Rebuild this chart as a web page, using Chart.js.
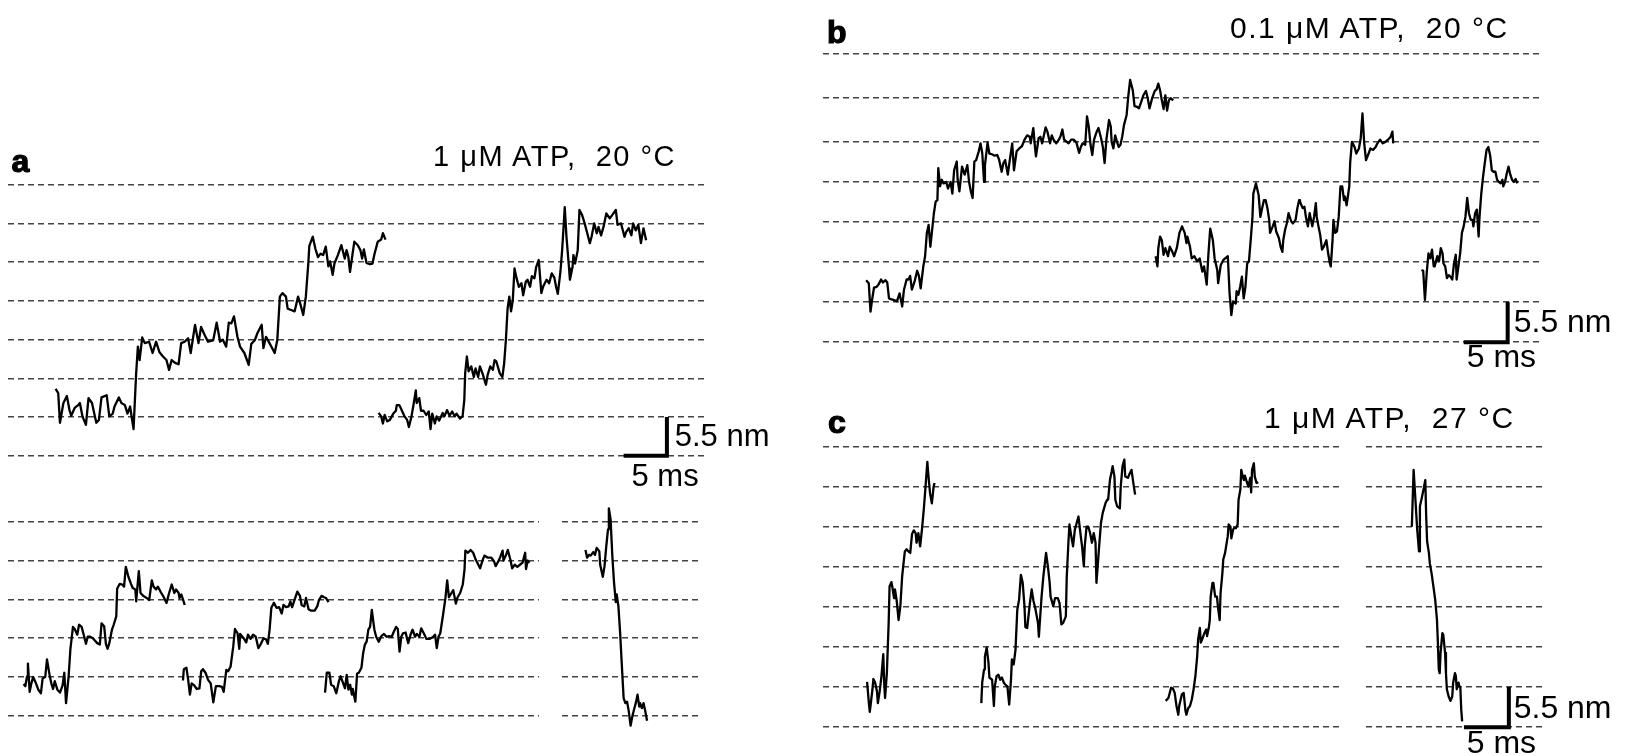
<!DOCTYPE html>
<html>
<head>
<meta charset="utf-8">
<script src="https://cdn.jsdelivr.net/npm/chart.js@4.4.1/dist/chart.umd.min.js"></script>
<style>
  html, body { margin: 0; padding: 0; background: #fff; }
  #fig { position: relative; width: 1627px; height: 756px; overflow: hidden; background: #fff;
         font-family: "Liberation Sans", Arial, sans-serif; color: #000; }
  .plot { position: absolute; }
  .txt { position: absolute; white-space: pre; line-height: 1; }
  .title { letter-spacing: 1.5px; }
  .tag { font-weight: bold; -webkit-text-stroke: 1.2px #000; }
</style>
</head>
<body>
<div id="fig"></div>
<script>
// Step-level reference lines (nm)
const levelsA = [0, 5.5, 11, 16.5, 22, 27.5, 33, 38.5];
const levelsA2 = [0, 5.5, 11, 16.5, 22, 27.5];
const levelsB = [0, 5.5, 11, 16.5, 22, 27.5, 33.5, 39.6];
const levelsC = [0, 5.5, 11, 16.5, 22, 27.5, 33, 38.5];

// Scale bars: 5 ms x 5.5 nm, as [time ms, position nm]
const barA = [[71.1, 0], [76.1, 0], [76.1, 5.5]];
const barB = [[72.8, 0], [77.8, 0], [77.8, 5.5]];
const barC = [[10.9, 0], [15.9, 0], [15.9, 5.5]];

// Panel labels and condition titles
const titleA = "1 \u03bcM ATP,  20 \u00b0C";
const titleB = "0.1 \u03bcM ATP,  20 \u00b0C";
const titleC = "1 \u03bcM ATP,  27 \u00b0C";

// Traces: [time (ms), position (nm)]
// a, upper row
const traceA1 = [[5.5,9.5],[5.8,8.9],[6.0,4.7],[6.4,7.5],[6.8,8.5],[7.1,6.5],[7.3,5.7],[7.7,6.8],[8.1,7.2],[8.3,7.5],[8.6,5.6],[9.0,4.4],[9.3,8.2],[9.7,7.5],[10.0,5.8],[10.2,4.7],[10.5,5.1],[10.8,8.3],[11.4,8.6],[11.7,5.6],[12.1,6.0],[12.3,7.0],[12.8,8.3],[13.1,7.5],[13.5,7.2],[13.8,6.0],[14.1,7.0],[14.5,3.8],[14.8,11.7],[15.0,15.5],[15.2,13.6],[15.5,16.8],[15.8,16.0],[16.3,16.2],[16.7,14.6],[17.1,16.2],[17.5,14.7],[17.9,14.1],[18.3,13.6],[18.6,12.2],[18.9,13.6],[19.3,13.2],[19.7,13.0],[20.0,16.0],[20.4,16.2],[20.8,16.7],[21.1,14.6],[21.6,18.6],[22.0,16.0],[22.3,18.3],[22.7,17.2],[23.1,16.2],[23.7,16.4],[24.1,18.9],[24.5,16.2],[24.8,16.5],[25.2,15.5],[25.5,18.9],[25.8,18.8],[26.1,19.8],[26.5,16.9],[26.8,15.5],[27.3,14.6],[27.8,12.9],[28.1,15.9],[28.5,16.4],[28.8,17.4],[29.3,18.6],[29.5,15.3],[29.8,16.9],[30.2,16.0],[30.5,15.3],[30.8,14.6],[31.1,16.4],[31.4,22.6],[31.7,23.1],[32.1,22.6],[32.3,20.9],[32.7,20.7],[33.1,20.5],[33.5,22.6],[33.8,21.4],[34.1,20.0],[34.4,22.6],[34.7,27.6],[34.8,29.8],[35.2,31.1],[35.5,29.4],[35.8,28.2],[36.1,28.7],[36.4,28.5],[36.7,29.7],[37.0,26.9],[37.2,27.6],[37.5,25.7],[37.7,27.3],[38.1,28.5],[38.5,29.9],[38.9,28.0],[39.1,29.2],[39.3,28.3],[39.5,26.1],[39.8,28.7],[40.0,30.4],[40.4,29.9],[40.7,29.2],[40.9,28.0],[41.1,29.3],[41.4,27.4],[41.8,27.2],[42.1,27.3],[42.3,28.5],[42.7,30.4],[43.1,30.7],[43.3,31.6],[43.6,30.7]];
const traceA2 = [[42.8,6.1],[43.1,5.6],[43.3,4.6],[43.5,5.8],[43.8,4.9],[44.1,5.1],[44.5,6.0],[44.8,6.4],[44.9,7.2],[45.2,7.2],[45.5,6.4],[45.8,5.6],[46.1,5.1],[46.3,4.1],[46.6,5.6],[46.8,7.0],[47.1,9.3],[47.2,7.5],[47.5,8.2],[47.7,6.4],[48.0,6.4],[48.3,5.8],[48.6,6.3],[48.8,3.8],[49.0,6.0],[49.3,4.6],[49.5,5.6],[49.8,5.0],[50.2,6.1],[50.4,5.6],[50.7,6.5],[51.0,5.7],[51.3,6.3],[51.6,5.6],[51.8,6.0],[52.2,5.3],[52.5,5.6],[52.7,7.9],[52.8,11.7],[53.0,14.1],[53.2,12.0],[53.5,12.7],[53.8,11.2],[54.0,12.4],[54.3,11.2],[54.5,12.7],[54.8,11.7],[55.2,10.1],[55.4,11.5],[55.7,12.7],[56.0,12.2],[56.2,13.6],[56.4,13.4],[56.8,11.7],[57.1,11.2],[57.3,13.1],[57.5,16.4],[57.7,20.9],[57.9,22.6],[58.1,20.5],[58.3,22.1],[58.5,26.6],[58.7,25.4],[59.0,24.0],[59.3,24.5],[59.5,22.8],[59.8,24.7],[60.0,25.0],[60.3,24.0],[60.5,25.5],[60.8,25.2],[61.0,26.8],[61.3,27.8],[61.6,23.1],[61.8,24.0],[62.2,25.0],[62.5,24.5],[62.8,25.9],[63.1,25.3],[63.3,24.0],[63.5,23.0],[63.8,26.1],[64.0,29.2],[64.2,33.2],[64.3,35.3],[64.5,31.1],[64.8,26.6],[64.9,25.0],[65.2,26.8],[65.3,28.5],[65.5,27.3],[65.8,29.2],[66.0,34.9],[66.3,34.2],[66.6,33.0],[66.9,31.6],[67.2,30.2],[67.4,31.1],[67.7,33.0],[68.0,31.6],[68.2,32.5],[68.5,31.3],[68.8,32.6],[69.1,34.4],[69.5,33.7],[69.8,34.2],[70.2,34.9],[70.4,32.8],[70.8,33.0],[71.2,31.1],[71.4,31.8],[71.7,32.3],[72.0,31.3],[72.2,33.0],[72.5,32.0],[72.8,32.8],[73.1,30.2],[73.4,32.3],[73.7,30.6]];

// a, lower row (left block)
const traceA3 = [[1.8,4.5],[2.0,4.2],[2.2,5.6],[2.3,7.4],[2.5,3.4],[2.7,4.6],[2.9,5.5],[3.2,4.7],[3.5,3.7],[3.8,3.2],[4.0,5.3],[4.3,5.5],[4.5,8.0],[4.8,5.8],[5.0,4.6],[5.2,3.8],[5.4,4.9],[5.7,3.7],[6.0,3.3],[6.3,4.3],[6.5,6.1],[6.7,1.8],[7.0,5.6],[7.2,9.4],[7.5,12.6],[7.7,12.3],[8.0,11.5],[8.2,12.9],[8.5,12.6],[8.8,11.2],[9.0,10.2],[9.2,11.2],[9.5,11.2],[9.8,11.0],[10.0,10.7],[10.3,10.3],[10.6,10.1],[10.8,13.1],[11.1,12.7],[11.3,10.2],[11.5,9.5],[11.7,10.3],[12.0,12.2],[12.2,12.9],[12.5,14.1],[12.6,18.0],[12.9,18.7],[13.2,18.6],[13.4,18.3],[13.6,21.1],[13.9,19.7],[14.2,18.7],[14.4,18.1],[14.7,17.9],[14.8,16.2],[15.1,20.5],[15.3,17.4],[15.6,17.0],[16.0,16.7],[16.3,16.4],[16.6,19.2],[16.8,18.3],[17.1,17.9],[17.3,18.3],[17.6,17.6],[17.9,17.0],[18.3,16.0],[18.6,17.4],[18.9,18.6],[19.2,17.4],[19.4,17.9],[19.7,17.4],[19.8,16.7],[20.0,17.2],[20.2,16.5],[20.4,15.7]];
const traceA4 = [[20.2,5.0],[20.3,6.6],[20.6,6.8],[20.8,5.1],[21.0,3.0],[21.2,4.6],[21.5,4.3],[21.8,3.8],[22.1,3.9],[22.3,6.3],[22.5,6.6],[22.8,6.1],[23.1,5.1],[23.4,4.6],[23.7,1.9],[24.0,4.2],[24.4,4.2],[24.7,4.1],[24.9,3.4],[25.2,6.5],[25.4,6.3],[25.7,7.0],[26.0,9.8],[26.2,12.3],[26.5,11.7],[26.7,9.5],[26.8,11.6],[27.2,11.0],[27.5,10.4],[27.7,11.5],[28.0,10.9],[28.3,11.5],[28.6,11.2],[28.9,9.6],[29.2,10.2],[29.5,11.0],[29.8,10.8],[30.0,10.2],[30.2,12.2],[30.4,15.3],[30.7,16.0],[31.0,15.3],[31.3,15.4],[31.6,14.5],[31.8,15.7],[32.1,15.4],[32.4,15.5],[32.6,16.2],[32.8,15.4],[33.1,16.5],[33.4,17.6],[33.7,17.0],[33.9,15.7],[34.2,15.5],[34.4,16.7],[34.7,15.1],[35.0,14.9],[35.4,14.9],[35.7,15.5],[35.9,16.4],[36.2,17.0],[36.5,16.8],[36.7,16.7],[37.0,16.1]];
const traceA5 = [[36.6,3.3],[36.8,6.1],[37.1,6.1],[37.3,4.4],[37.6,4.2],[37.9,3.2],[38.2,4.9],[38.4,5.6],[38.6,4.9],[38.9,3.9],[39.1,5.8],[39.3,3.7],[39.5,4.4],[39.7,3.0],[39.8,3.8],[40.1,2.0],[40.3,6.0],[40.5,6.1],[40.8,6.8],[41.0,8.9],[41.2,10.1],[41.4,10.5],[41.6,12.2],[41.8,12.6],[42.0,15.0],[42.2,13.1],[42.3,12.2],[42.5,11.2],[42.8,10.5],[43.1,11.3],[43.4,11.6],[43.7,11.2],[44.0,11.3],[44.3,11.2],[44.5,11.8],[44.8,12.6],[45.0,12.3],[45.2,9.1],[45.4,11.2],[45.6,11.7],[45.9,11.8],[46.2,10.3],[46.5,11.6],[46.7,12.2],[47.0,11.2],[47.2,11.6],[47.5,11.2],[47.7,12.4],[48.0,11.7],[48.3,10.9],[48.7,10.9],[49.1,11.2],[49.3,11.5],[49.5,9.6],[49.7,11.2],[49.9,11.7],[50.2,14.1],[50.5,16.7],[50.7,19.2],[50.9,16.8],[51.2,17.4],[51.4,17.8],[51.7,15.9],[51.9,16.8],[52.2,17.4],[52.5,18.6],[52.7,20.7],[52.8,23.4],[53.1,23.1],[53.4,23.5],[53.7,23.1],[54.0,22.1],[54.3,21.4],[54.5,20.9],[54.8,22.1],[55.0,22.7],[55.4,22.4],[55.8,22.4],[56.1,21.9],[56.3,21.2],[56.6,21.9],[56.8,22.4],[57.1,23.4],[57.2,22.0],[57.5,22.8],[57.7,23.5],[58.0,22.1],[58.2,20.9],[58.5,21.4],[58.8,21.1],[59.1,21.4],[59.4,21.7],[59.7,23.1],[59.8,20.8],[60.0,22.0],[60.2,21.7]];
// a, lower row (right block, backward run)
const traceA6 = [[2.7,23.5],[2.9,22.4],[3.1,22.8],[3.3,22.7],[3.6,23.2],[3.8,22.8],[4.0,23.8],[4.3,23.3],[4.4,21.4],[4.7,19.7],[4.9,21.2],[5.1,24.0],[5.3,26.4],[5.4,29.4],[5.6,27.8],[5.8,22.6],[6.0,18.8],[6.2,16.1],[6.3,17.2],[6.5,15.5],[6.7,11.7],[6.9,7.0],[7.1,2.5],[7.3,1.8],[7.5,2.0],[7.7,0.6],[7.9,-1.4],[8.1,-0.1],[8.3,0.9],[8.5,1.8],[8.7,3.0],[8.9,1.3],[9.0,1.8],[9.2,1.1],[9.4,1.8],[9.6,0.6],[9.8,-0.7]];

// b
const traceB1 = [[4.9,8.5],[5.2,8.1],[5.4,4.2],[5.6,6.0],[5.8,7.5],[6.1,7.6],[6.3,7.9],[6.6,8.6],[6.8,8.2],[7.1,8.5],[7.3,8.2],[7.5,6.0],[7.7,5.9],[8.0,5.8],[8.4,5.6],[8.7,6.7],[9.0,4.9],[9.2,7.2],[9.5,8.6],[9.7,8.6],[9.9,9.1],[10.1,7.2],[10.4,8.3],[10.7,9.8],[10.9,9.1],[11.1,7.4],[11.4,10.4],[11.6,11.8],[11.8,15.0],[12.0,16.1],[12.2,13.1],[12.4,15.4],[12.6,17.7],[12.8,19.3],[13.0,19.5],[13.1,23.9],[13.3,21.4],[13.5,22.3],[13.7,21.8],[14.0,22.0],[14.2,21.1],[14.5,22.0],[14.7,20.4],[14.9,23.6],[15.2,24.8],[15.3,22.3],[15.5,20.7],[15.8,24.1],[16.1,23.0],[16.4,24.3],[16.6,22.0],[16.8,20.7],[17.0,19.8],[17.2,24.8],[17.4,25.0],[17.7,26.2],[17.9,27.3],[18.1,25.9],[18.3,22.0],[18.4,24.3],[18.7,27.4],[18.9,25.9],[19.2,25.8],[19.5,25.6],[19.8,25.7],[20.0,25.1],[20.3,23.4],[20.5,24.6],[20.7,25.0],[21.0,23.0],[21.2,24.8],[21.5,27.3],[21.7,23.6],[22.0,26.2],[22.3,26.6],[22.6,26.9],[22.9,27.8],[23.2,28.4],[23.5,28.2],[23.6,27.3],[23.9,29.4],[24.1,26.6],[24.2,25.5],[24.5,28.0],[24.7,28.2],[24.9,27.3],[25.1,28.4],[25.3,29.5],[25.5,28.9],[25.8,27.3],[26.0,28.4],[26.2,27.8],[26.5,27.3],[26.8,27.8],[27.0,28.3],[27.2,29.2],[27.4,27.8],[27.7,27.5],[27.9,27.3],[28.2,27.8],[28.5,27.8],[28.8,27.4],[29.1,26.0],[29.3,26.8],[29.5,27.3],[29.8,27.1],[30.0,31.0],[30.2,29.6],[30.4,27.1],[30.6,25.7],[30.8,27.8],[31.1,28.9],[31.3,29.4],[31.6,28.0],[31.8,26.8],[32.0,24.6],[32.2,27.8],[32.5,30.5],[32.7,29.6],[32.8,27.5],[33.0,26.6],[33.2,28.4],[33.4,27.5],[33.6,26.8],[33.8,27.1],[34.0,28.2],[34.2,29.8],[34.5,31.2],[34.7,33.9],[34.9,36.0],[35.2,34.6],[35.4,32.4],[35.7,32.3],[35.9,32.1],[36.1,32.8],[36.4,33.9],[36.7,34.5],[36.9,33.5],[37.1,32.1],[37.4,33.5],[37.7,34.5],[37.9,34.7],[38.1,35.5],[38.3,34.6],[38.5,33.2],[38.7,32.0],[38.9,33.9],[39.1,31.8],[39.3,33.2],[39.5,33.5],[39.8,33.2]];
const traceB2 = [[37.8,11.8],[38.0,10.4],[38.1,12.9],[38.3,14.5],[38.5,14.0],[38.7,12.0],[38.9,12.9],[39.2,11.8],[39.4,13.1],[39.7,12.4],[39.9,11.8],[40.2,12.9],[40.5,15.0],[40.8,15.9],[41.1,15.0],[41.3,13.6],[41.4,14.5],[41.7,13.1],[41.9,11.5],[42.2,11.8],[42.5,11.1],[42.8,11.5],[43.1,9.7],[43.3,10.4],[43.6,7.9],[43.8,12.2],[44.0,15.6],[44.3,14.0],[44.5,11.5],[44.8,9.9],[44.9,8.1],[45.2,10.6],[45.5,11.3],[45.7,11.5],[46.0,11.8],[46.2,6.7],[46.4,3.7],[46.6,5.6],[46.9,5.3],[47.0,7.0],[47.2,6.5],[47.4,7.6],[47.6,9.0],[47.8,6.0],[48.0,7.6],[48.2,10.8],[48.4,11.1],[48.6,14.0],[48.8,17.2],[48.9,20.4],[49.2,21.8],[49.5,20.2],[49.7,17.2],[49.9,18.4],[50.1,19.5],[50.3,19.5],[50.5,18.4],[50.7,16.8],[50.8,15.0],[51.1,15.9],[51.3,16.6],[51.5,15.2],[51.8,14.3],[52.0,13.1],[52.2,12.4],[52.3,14.0],[52.5,15.4],[52.7,16.3],[52.9,17.7],[53.2,16.6],[53.4,16.3],[53.7,16.8],[53.9,18.4],[54.1,19.5],[54.2,19.3],[54.5,18.4],[54.7,18.6],[54.9,17.0],[55.1,15.9],[55.3,17.7],[55.6,15.9],[55.8,17.2],[56.0,19.1],[56.1,17.2],[56.3,15.9],[56.5,14.7],[56.7,12.7],[56.9,13.1],[57.2,14.0],[57.4,12.2],[57.6,10.8],[57.7,10.4],[57.9,14.0],[58.0,16.8],[58.2,15.0],[58.4,15.2],[58.6,17.2],[58.8,21.4],[59.0,21.4],[59.2,19.5],[59.3,20.0],[59.5,18.8],[59.8,21.4],[59.9,24.6],[60.1,27.5],[60.4,26.8],[60.6,25.9],[60.9,26.6],[61.1,28.0],[61.3,31.4],[61.5,27.3],[61.7,25.0],[62.0,25.9],[62.2,26.6],[62.5,26.4],[62.8,26.8],[63.0,27.3],[63.3,27.8],[63.6,27.3],[63.9,27.5],[64.2,27.8],[64.5,28.2],[64.7,28.9],[64.8,27.3]];
const traceB3 = [[68.0,9.9],[68.2,9.8],[68.4,5.8],[68.6,9.5],[68.8,12.2],[69.0,11.5],[69.2,12.7],[69.4,10.4],[69.5,10.4],[69.8,11.8],[70.0,11.1],[70.2,12.9],[70.4,12.2],[70.5,10.8],[70.7,10.4],[70.9,8.8],[71.1,9.2],[71.3,9.0],[71.5,8.6],[71.7,10.8],[71.9,12.0],[72.0,8.6],[72.2,10.4],[72.4,12.2],[72.6,15.0],[72.8,15.9],[73.0,17.2],[73.2,19.8],[73.4,17.7],[73.6,16.8],[73.8,16.8],[73.9,15.9],[74.1,17.7],[74.3,18.2],[74.5,14.5],[74.6,17.2],[74.8,20.4],[75.0,22.7],[75.2,24.6],[75.4,26.4],[75.6,26.8],[75.8,25.7],[76.0,23.6],[76.2,23.4],[76.4,23.4],[76.6,22.3],[76.8,22.0],[77.0,21.8],[77.2,22.3],[77.3,21.4],[77.5,22.0],[77.7,23.2],[77.9,24.1],[78.1,23.0],[78.3,22.3],[78.5,22.0],[78.7,22.4],[78.9,21.8]];

// c (left block)
const traceC1 = [[4.9,6.2],[5.1,3.3],[5.2,2.1],[5.3,3.1],[5.5,5.2],[5.6,6.6],[5.8,6.1],[6.0,4.9],[6.1,3.3],[6.3,4.9],[6.5,7.0],[6.7,10.0],[6.8,6.1],[6.9,4.0],[7.1,7.4],[7.3,14.3],[7.4,19.3],[7.6,19.9],[7.7,19.3],[7.9,17.7],[8.0,18.9],[8.2,17.3],[8.4,14.7],[8.6,16.6],[8.8,20.7],[9.0,23.0],[9.1,24.1],[9.3,24.4],[9.5,24.1],[9.7,23.9],[9.9,26.5],[10.1,27.0],[10.3,26.6],[10.4,25.3],[10.6,26.6],[10.8,24.8],[11.0,27.1],[11.2,29.8],[11.4,33.0],[11.6,36.4],[11.7,34.8],[11.9,32.1],[12.1,30.7],[12.3,33.0],[12.4,33.5]];
const traceC2 = [[17.6,3.3],[17.7,6.1],[17.9,7.9],[18.0,9.7],[18.2,10.9],[18.4,8.8],[18.5,6.8],[18.8,6.5],[19.0,2.9],[19.1,5.6],[19.3,7.0],[19.5,7.2],[19.7,6.5],[19.9,6.8],[20.1,6.1],[20.3,5.8],[20.5,5.6],[20.7,3.1],[20.9,6.5],[21.0,9.3],[21.2,8.6],[21.4,10.6],[21.6,16.1],[21.8,17.5],[22.0,20.9],[22.2,19.8],[22.4,16.6],[22.5,13.7],[22.7,13.6],[23.0,17.0],[23.2,18.9],[23.4,17.3],[23.6,16.3],[23.9,14.3],[24.0,12.4],[24.1,14.3],[24.3,17.9],[24.5,20.7],[24.8,23.9],[25.0,22.1],[25.2,19.8],[25.3,17.9],[25.6,16.6],[25.8,17.7],[26.1,17.7],[26.3,17.0],[26.5,14.1],[26.7,14.3],[27.0,15.2],[27.1,20.7],[27.3,25.7],[27.4,27.8],[27.6,26.2],[27.8,24.8],[28.0,27.1],[28.2,28.0],[28.4,28.9],[28.6,26.8],[28.8,24.8],[29.0,22.1],[29.1,24.8],[29.3,27.5],[29.5,27.5],[29.7,26.6],[29.9,25.3],[30.1,26.6],[30.3,25.3],[30.4,19.8],[30.7,24.8],[30.9,28.0],[31.1,29.4],[31.4,30.7],[31.6,31.2],[31.7,31.2],[31.9,33.9],[32.1,35.1],[32.2,35.8],[32.4,34.4],[32.5,31.2],[32.7,30.3],[33.0,30.0],[33.1,33.0],[33.3,35.8],[33.5,36.7],[33.6,34.4],[33.9,34.2],[34.1,34.8],[34.3,35.3],[34.5,33.5],[34.7,31.9]];
const traceC3 = [[38.1,3.6],[38.4,4.0],[38.7,5.4],[38.9,5.3],[39.1,4.7],[39.3,2.9],[39.5,1.7],[39.6,2.9],[39.9,4.5],[40.1,4.7],[40.3,2.2],[40.4,1.7],[40.6,2.6],[40.8,2.9],[41.0,3.8],[41.2,5.2],[41.4,7.0],[41.6,9.7],[41.7,12.0],[41.9,13.6],[42.0,11.6],[42.2,12.2],[42.4,12.9],[42.6,13.4],[42.7,12.5],[42.9,13.7],[43.0,14.7],[43.1,17.9],[43.3,19.8],[43.4,19.8],[43.6,17.9],[43.8,17.9],[43.9,16.6],[44.1,14.7],[44.2,18.4],[44.4,21.1],[44.5,23.0],[44.7,23.9],[44.8,23.9],[45.0,26.2],[45.1,27.8],[45.3,27.5],[45.4,25.9],[45.6,27.1],[45.7,27.3],[45.9,27.3],[46.1,27.8],[46.2,31.2],[46.4,32.6],[46.5,35.3],[46.7,34.2],[46.8,33.9],[46.9,34.5],[47.1,33.7],[47.3,33.0],[47.5,34.2],[47.6,32.2],[47.7,35.3],[47.9,36.2],[48.0,34.4],[48.2,33.5],[48.4,33.6]];
// c (right block, backward run)
const traceC4 = [[5.1,27.5],[5.3,35.3],[5.5,31.2],[5.7,27.1],[5.9,24.1],[6.0,30.3],[6.2,31.4],[6.4,32.6],[6.6,33.9],[6.7,28.9],[6.8,25.5],[7.0,23.9],[7.1,22.5],[7.3,21.1],[7.5,19.3],[7.7,17.5],[7.9,14.7],[8.0,11.6],[8.1,7.9],[8.2,7.4],[8.3,10.2],[8.5,12.9],[8.6,12.7],[8.8,10.2],[8.9,7.4],[9.0,5.2],[9.2,4.2],[9.4,3.6],[9.6,4.2],[9.7,6.1],[9.9,7.4],[10.0,7.0],[10.1,5.2],[10.3,6.1],[10.4,5.6],[10.5,5.4],[10.6,2.4],[10.7,0.8]];

const fig = document.getElementById('fig');

function toPoints(arr) { return arr.map(([x, y]) => ({ x, y })); }

function makePlot(p) {
  const box = document.createElement('div');
  box.className = 'plot';
  box.style.left = p.left + 'px';
  box.style.top = p.top + 'px';
  box.style.width = p.width + 'px';
  box.style.height = p.height + 'px';
  const cv = document.createElement('canvas');
  cv.width = p.width; cv.height = p.height;
  cv.style.width = p.width + 'px'; cv.style.height = p.height + 'px';
  box.appendChild(cv);
  fig.appendChild(box);

  const datasets = p.traces.map(tr => ({
    data: toPoints(tr), borderColor: '#000', borderWidth: 2.3,
    pointRadius: 0, tension: 0, fill: false, borderJoinStyle: 'round'
  }));
  if (p.bar) {
    datasets.push({
      data: toPoints(p.bar), borderColor: '#000', borderWidth: 4,
      pointRadius: 0, tension: 0, fill: false,
      borderCapStyle: 'butt', borderJoinStyle: 'miter', clip: false
    });
  }

  new Chart(cv, {
    type: 'line',
    data: { datasets },
    options: {
      responsive: false, animation: false, devicePixelRatio: 1, events: [],
      layout: { padding: 0 },
      plugins: { legend: { display: false }, tooltip: { enabled: false } },
      scales: {
        x: { type: 'linear', display: false, min: 0, max: p.xMax },
        y: {
          type: 'linear', min: p.yMin, max: p.yMax,
          ticks: { display: false },
          grid: { drawTicks: false, color: '#444', lineWidth: 1.5 },
          border: { display: false, dash: [6, 4] },
          afterBuildTicks: s => { s.ticks = p.levels.map(v => ({ value: v })); }
        }
      }
    }
  });
}

function label(text, left, baseline, size, cls) {
  const d = document.createElement('div');
  d.className = 'txt' + (cls ? ' ' + cls : '');
  d.textContent = text;
  d.style.fontSize = size + 'px';
  d.style.left = left + 'px';
  d.style.top = (baseline - 0.8465 * size) + 'px';
  fig.appendChild(d);
}

// a
makePlot({ left: 8, top: 167, width: 697, height: 310, xMax: 80.5, yMin: -3, yMax: 41,
           levels: levelsA, traces: [traceA1, traceA2], bar: barA });
makePlot({ left: 8, top: 497, width: 531, height: 240, xMax: 61.3, yMin: -3, yMax: 31,
           levels: levelsA2, traces: [traceA3, traceA4, traceA5] });
makePlot({ left: 562, top: 497, width: 138, height: 240, xMax: 15.9, yMin: -3, yMax: 31,
           levels: levelsA2, traces: [traceA6] });
// b
makePlot({ left: 823, top: 29, width: 719, height: 335, xMax: 81.7, yMin: -3, yMax: 43,
           levels: levelsB, traces: [traceB1, traceB2, traceB3], bar: barB });
// c
makePlot({ left: 823, top: 421, width: 519, height: 328, xMax: 57.7, yMin: -3, yMax: 42,
           levels: levelsC, traces: [traceC1, traceC2, traceC3] });
makePlot({ left: 1366, top: 421, width: 177, height: 328, xMax: 19.7, yMin: -3, yMax: 42,
           levels: levelsC, traces: [traceC4], bar: barC });

// Text
label('a', 11.5, 171.7, 32, 'tag');
label(titleA, 433, 166.7, 29, 'title');
label('5.5 nm', 674.7, 446.7, 31);
label('5 ms', 631.5, 486.7, 31);

label('b', 827, 43.3, 32, 'tag');
label(titleB, 1230, 38.3, 30, 'title');
label('5.5 nm', 1513.7, 331.7, 32);
label('5 ms', 1466.7, 366.7, 32);

label('c', 828, 432.7, 32, 'tag');
label(titleC, 1264, 428.3, 30, 'title');
label('5.5 nm', 1513.7, 718.3, 32);
label('5 ms', 1466.7, 753, 32);
</script>
</body>
</html>
